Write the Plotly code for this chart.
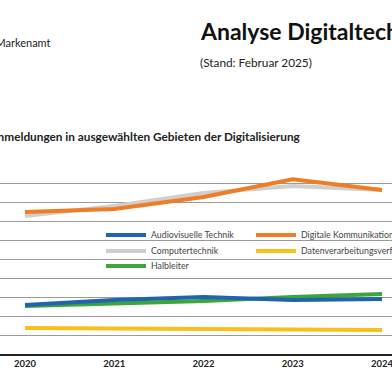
import plotly.graph_objects as go

years = [2020, 2021, 2022, 2023, 2024]
audiovisuelle = [2.58, 2.84, 3.0, 2.84, 2.89]
computertechnik = [7.26, 7.79, 8.47, 8.84, 8.63]
digitale_komm = [7.47, 7.63, 8.26, 9.2, 8.63]
datenverarbeitung = [1.37, 1.35, 1.32, 1.29, 1.26]
halbleiter = [2.53, 2.68, 2.79, 3.0, 3.16]
tick_labels = ["2020", "2021", "2022", "2023", "2024"]

series = [
    ("Computertechnik", computertechnik, "#cfcfcf", "legend2"),
    ("Digitale Kommunikationstechnik", digitale_komm, "#f07c26", "legend4"),
    ("Datenverarbeitungsverfahren", datenverarbeitung, "#f7c11a", "legend5"),
    ("Halbleiter", halbleiter, "#3da63a", "legend3"),
    ("Audiovisuelle Technik", audiovisuelle, "#1f64ad", "legend"),
]

OFF = 0
W, H = 392, 392
T, B = 164, 354
FONT = "Lato"

fig = go.Figure()
for name, vals, col, lg in series:
    fig.add_trace(go.Scatter(x=years, y=vals, mode="lines", name=name,
                             line=dict(color=col, width=4), legend=lg))

def py(p):
    return (B - (p - OFF)) / (B - T)

def px(p):
    return (p - OFF) / W

leg_common = dict(bgcolor="rgba(0,0,0,0)", font=dict(family=FONT, size=8.8, color="#444"),
                  xanchor="left", yanchor="middle", orientation="v", itemwidth=40)
rows = [235, 251, 266]
c1, c2 = 101, 251
fig.update_layout(
    showlegend=True,
    legend=dict(x=px(c1), y=py(rows[0]), **leg_common),
    legend2=dict(x=px(c1), y=py(rows[1]), **leg_common),
    legend3=dict(x=px(c1), y=py(rows[2]), **leg_common),
    legend4=dict(x=px(c2), y=py(rows[0]), **leg_common),
    legend5=dict(x=px(c2), y=py(rows[1]), **leg_common),
)

fig.add_shape(type="rect", xref="paper", yref="paper", x0=px(93), x1=1.0,
              y0=py(276), y1=py(223), fillcolor="white", line=dict(width=0), layer="between")

anns = [
    dict(x=px(200), y=py(31), text="<b>Analyse Digitaltechnik</b>", xanchor="left", yanchor="middle",
         font=dict(family=FONT, size=23, color="#111")),
    dict(x=px(200), y=py(62), text="(Stand: Februar 2025)", xanchor="left", yanchor="middle",
         font=dict(family=FONT, size=11.8, color="#222")),
    dict(x=px(51), y=py(42), text="Deutsches Patent- und Markenamt", xanchor="right", yanchor="middle",
         font=dict(family=FONT, size=11, color="#222")),
    dict(x=px(301), y=py(136), text="<b>Patentanmeldungen in ausgewählten Gebieten der Digitalisierung</b>",
         xanchor="right", yanchor="middle", font=dict(family=FONT, size=11.8, color="#222")),
]
for a in anns:
    fig.add_annotation(xref="paper", yref="paper", showarrow=False, borderpad=0, borderwidth=0, **a)

x2020, x2024 = 25 - OFF, 382 - OFF
ppy = (x2024 - x2020) / 4
fig.update_layout(
    width=W, height=H,
    margin=dict(l=0, r=0, t=T, b=H - B, autoexpand=False),
    paper_bgcolor="white", plot_bgcolor="white",
    font=dict(family=FONT),
    xaxis=dict(range=[2020 - x2020 / ppy, 2024 + (W - x2024) / ppy], tickvals=years,
               ticktext=["<b>%s</b>" % t for t in tick_labels], showgrid=False,
               showline=True, linecolor="#222", linewidth=2, ticks="", ticklabeloverflow="allow",
               tickfont=dict(family=FONT, size=9.5, color="#222"), zeroline=False),
    yaxis=dict(range=[0, 10], dtick=1, showticklabels=False, showgrid=True,
               gridcolor="#9a9a9a", gridwidth=1.3, zeroline=False, showline=False),
)

fig.write_html("out.html", config={"displayModeBar": False},
               post_script="document.body.style.margin='0';document.body.style.overflow='hidden';")
